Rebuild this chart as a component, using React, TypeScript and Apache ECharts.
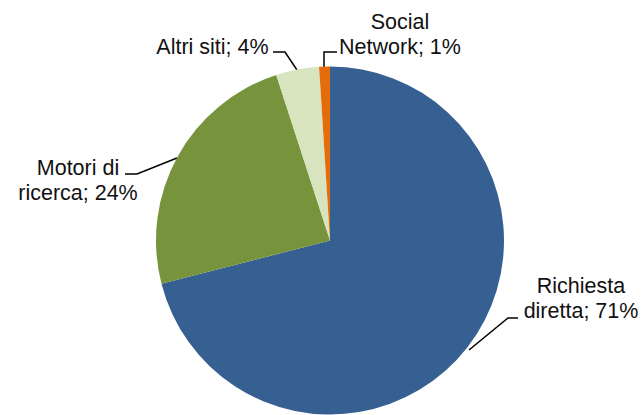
import React, { useEffect, useRef } from "react";
import * as echarts from "echarts";

const categories = ["Richiesta diretta", "Motori di ricerca", "Altri siti", "Social Network"];
const labelTexts = ["Richiesta\ndiretta; 71%", "Motori di\nricerca; 24%", "Altri siti; 4%", "Social\nNetwork; 1%"];
const values = [71, 24, 4, 1];
const colors = ["#376092", "#77933C", "#D7E4BD", "#E46C0A"];

// label anchor positions (px) and leader-line points
const labelPos = [
  { x: 581, y: 298.5 },
  { x: 78, y: 180.5 },
  { x: 212.5, y: 47 },
  { x: 400, y: 34 },
];
const leaderLines = [
  [[469, 350], [508, 318], [518, 318]],
  [[177, 158], [137, 174], [125, 174]],
  [[297, 70], [285, 52], [273, 52]],
  [[324, 68], [324, 52], [337, 52]],
];

export default function App() {
  const ref = useRef<HTMLDivElement>(null);
  useEffect(() => {
    const chart = echarts.init(ref.current!, null, { renderer: "svg" });
    chart.setOption({
      animation: false,
      backgroundColor: "#ffffff",
      series: [
        {
          type: "pie",
          center: [330, 240.5],
          radius: 174,
          startAngle: 90,
          clockwise: true,
          data: categories.map((c, i) => ({
            name: c,
            value: values[i],
            itemStyle: { color: colors[i] },
            label: { formatter: labelTexts[i] },
          })),
          label: {
            show: true,
            position: "outside",
            fontFamily: "Liberation Sans, Arial, sans-serif",
            fontSize: 21.5,
            lineHeight: 25,
            color: "#111111",
            align: "center",
          },
          labelLine: {
            show: true,
            lineStyle: { color: "#000000", width: 1.5 },
          },
          labelLayout: (params: any) => {
            const i = params.dataIndex;
            return {
              x: labelPos[i].x,
              y: labelPos[i].y,
              align: "center",
              verticalAlign: "middle",
              labelLinePoints: leaderLines[i],
            };
          },
          emphasis: { disabled: true },
        },
      ],
    });
    return () => chart.dispose();
  }, []);
  return <div ref={ref} style={{ width: 642, height: 415, position: "absolute", left: 0, top: 0 }} />;
}
